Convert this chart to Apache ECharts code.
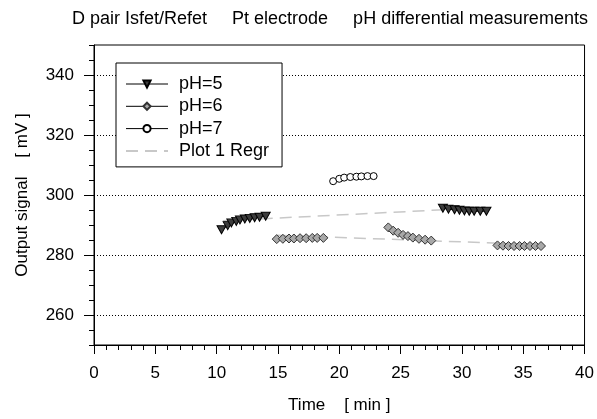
<!DOCTYPE html>
<html>
<head>
<meta charset="utf-8">
<script src="https://cdn.jsdelivr.net/npm/echarts@6/dist/echarts.min.js"></script>
<style>html,body{margin:0;padding:0;background:#fff}#c{width:597px;height:419px}</style>
</head>
<body>
<div id="c"></div>
<script>
const titleText = 'D pair Isfet/Refet     Pt electrode     pH differential measurements';
const xName = 'Time    [ min ]';
const yName = 'Output signal    [ mV ]';
const yMajorTicks = [260, 280, 300, 320, 340];

// pH=5 (two groups)
const ph5X1 = [10.4, 10.9, 11.2, 11.6, 11.9, 12.3, 12.7, 13.1, 13.5, 14.0];
const ph5Y1 = [288.4, 289.8, 290.7, 291.2, 291.7, 292.0, 292.2, 292.4, 292.6, 292.9];
const ph5X2 = [28.45, 28.9, 29.4, 29.8, 30.2, 30.6, 31.0, 31.5, 32.0];
const ph5Y2 = [295.6, 295.3, 295.1, 294.9, 294.7, 294.6, 294.6, 294.6, 294.6];

// pH=6 (three groups)
const ph6X1 = [14.9, 15.4, 15.9, 16.3, 16.8, 17.3, 17.8, 18.2, 18.7];
const ph6Y1 = [285.3, 285.4, 285.5, 285.5, 285.6, 285.6, 285.7, 285.7, 285.7];
const ph6X2 = [24.0, 24.4, 24.8, 25.2, 25.6, 26.0, 26.5, 27.0, 27.5];
const ph6Y2 = [289.2, 288.1, 287.4, 286.7, 286.3, 285.8, 285.4, 285.1, 284.8];
const ph6X3 = [32.9, 33.35, 33.8, 34.25, 34.7, 35.1, 35.55, 36.0, 36.45];
const ph6Y3 = [283.2, 283.1, 283.0, 283.0, 283.0, 283.0, 283.0, 283.0, 283.0];

// pH=7
const ph7X = [19.5, 20.0, 20.4, 20.9, 21.4, 21.8, 22.3, 22.8];
const ph7Y = [304.6, 305.4, 305.8, 306.0, 306.1, 306.2, 306.3, 306.3];

// Regression lines (Plot 1 Regr)
const regrAX = [10.5, 32.0];
const regrAY = [291.4, 295.8];
const regrBX = [15.0, 36.5];
const regrBY = [286.6, 283.4];

function pairs(xs, ys) { return xs.map((x, i) => [x, ys[i]]); }
function groups(...gs) {
  const out = [];
  gs.forEach((g, i) => { if (i > 0) out.push([null, null]); out.push(...g); });
  return out;
}

const FONT = 'Liberation Sans, Arial, sans-serif';
const chart = echarts.init(document.getElementById('c'), null, {renderer: 'canvas'});

const regrStyle = {color: '#c8c8c8', width: 1.5, type: [12, 7]};
const thin = {width: 1, color: '#000'};

chart.setOption({
  animation: false,
  backgroundColor: '#fff',
  title: {
    text: titleText, left: 67, top: 5,
    textStyle: {fontFamily: FONT, fontSize: 18, fontWeight: 'normal', color: '#000'}
  },
  grid: {left: 94, right: 12, top: 45, bottom: 72, show: true, borderColor: '#000', borderWidth: 1, backgroundColor: 'transparent'},
  legend: {
    orient: 'vertical', left: 116, top: 63,
    padding: [12, 13, 7, 9],
    itemWidth: 42, itemHeight: 9, itemGap: 4.3,
    borderColor: '#000', borderWidth: 1, backgroundColor: '#fff',
    textStyle: {fontFamily: FONT, fontSize: 18, color: '#000', padding: [0, 0, 0, 6]},
    data: [
      {name: 'pH=5', lineStyle: thin},
      {name: 'pH=6', lineStyle: thin},
      {name: 'pH=7', lineStyle: thin},
      {name: 'Plot 1 Regr', itemStyle: {opacity: 0}}
    ]
  },
  xAxis: {
    type: 'value', min: 0, max: 40, interval: 5,
    name: xName, nameLocation: 'middle', nameGap: 52,
    nameTextStyle: {fontFamily: FONT, fontSize: 17, color: '#000'},
    axisLine: {lineStyle: {color: '#000', width: 1}},
    axisTick: {length: 9, lineStyle: {color: '#000'}},
    minorTick: {show: true, splitNumber: 5, length: 5, lineStyle: {color: '#000'}},
    axisLabel: {fontFamily: FONT, fontSize: 17, color: '#000', margin: 20},
    splitLine: {show: false}
  },
  yAxis: [{
    type: 'value', min: 250, max: 350,
    name: yName, nameLocation: 'middle', nameGap: 63,
    nameTextStyle: {fontFamily: FONT, fontSize: 17, color: '#000'},
    axisLine: {show: true, lineStyle: {color: '#000', width: 1}},
    axisTick: {show: true, length: 10, customValues: yMajorTicks, lineStyle: {color: '#000'}},
    axisLabel: {fontFamily: FONT, fontSize: 17, color: '#000', margin: 20, customValues: yMajorTicks},
    splitLine: {show: true, lineStyle: {color: '#000', type: [1, 2], width: 1}}
  }, {
    type: 'value', min: 250, max: 350, interval: 5, position: 'left',
    axisLine: {show: false},
    axisTick: {show: true, length: 5, lineStyle: {color: '#000'}},
    axisLabel: {show: false},
    splitLine: {show: false}
  }],
  series: [
    {name: 'Plot 1 Regr', type: 'line', data: pairs(regrAX, regrAY), showSymbol: false, symbol: 'none', lineStyle: regrStyle, itemStyle: {color: '#c8c8c8'}, z: 1},
    {name: 'Plot 1 Regr', type: 'line', data: pairs(regrBX, regrBY), showSymbol: false, symbol: 'none', lineStyle: regrStyle, itemStyle: {color: '#c8c8c8'}, z: 1},
    {name: 'pH=5', type: 'line', data: groups(pairs(ph5X1, ph5Y1), pairs(ph5X2, ph5Y2)), connectNulls: false,
      symbol: 'triangle', symbolRotate: 180, symbolSize: [9, 8],
      itemStyle: {color: '#3c3c3c', borderColor: '#000', borderWidth: 1},
      lineStyle: {color: '#000', width: 1}, z: 3},
    {name: 'pH=6', type: 'line', data: groups(pairs(ph6X1, ph6Y1), pairs(ph6X2, ph6Y2), pairs(ph6X3, ph6Y3)), connectNulls: false,
      symbol: 'diamond', symbolSize: 9,
      itemStyle: {color: '#a8a8a8', borderColor: '#333', borderWidth: 1},
      lineStyle: {color: '#000', width: 1}, z: 3},
    {name: 'pH=7', type: 'line', data: pairs(ph7X, ph7Y),
      symbol: 'circle', symbolSize: 7,
      itemStyle: {color: '#fff', borderColor: '#000', borderWidth: 1},
      lineStyle: {color: '#000', width: 1}, z: 3}
  ]
});
</script>
</body>
</html>
